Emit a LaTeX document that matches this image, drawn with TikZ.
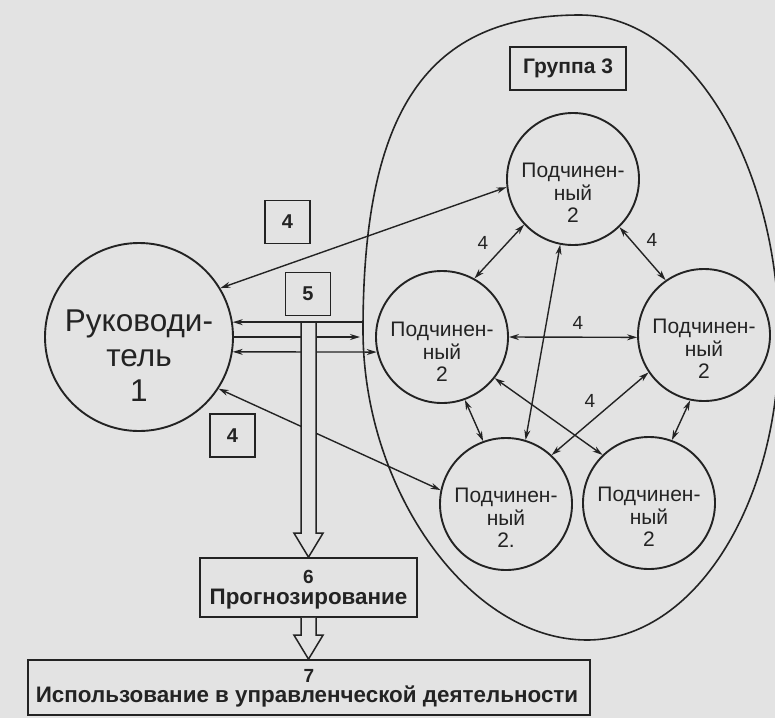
\documentclass[tikz,border=0pt]{standalone}
\usepackage{fontspec}
\setmainfont{Liberation Sans}
\usetikzlibrary{arrows.meta,calc}
\definecolor{bgc}{RGB}{227,227,227}
\definecolor{ink}{RGB}{35,35,35}
\tikzset{
  myhead/.tip={Stealth[length=10pt,width=6pt]},
  circ/.style={circle,draw=ink,line width=1.9pt,minimum size=132pt,inner sep=0pt},
  subtext/.style={align=center,font=\fontsize{21}{22.5}\selectfont,text=ink,inner sep=0pt},
  numbox/.style={draw=ink,line width=1.7pt,minimum width=45pt,minimum height=43pt,inner sep=0pt,font=\bfseries\fontsize{20}{22}\selectfont,text=ink},
  conn/.style={draw=ink,line width=1.4pt},
  biarrow/.style={conn,myhead-myhead},
  lbl/.style={font=\fontsize{19}{20}\selectfont,text=ink,inner sep=0pt},
  bigbox/.style={draw=ink,line width=1.7pt,align=center,inner sep=0pt,text=ink},
  boxtext/.style={inner sep=0pt,anchor=base,text=ink,font=\bfseries\fontsize{22.4}{24}\selectfont},
  boxnum/.style={inner sep=0pt,anchor=base,text=ink,font=\bfseries\fontsize{19}{20}\selectfont},
}
\newcommand{\hollowarrow}[2]{%
  \fill[bgc] ($(#1)+(-7.5,0)$) -- ($(#2)+(-7.5,-24)$) -- ($(#2)+(-14.5,-24)$) -- (#2) -- ($(#2)+(14.5,-24)$) -- ($(#2)+(7.5,-24)$) -- ($(#1)+(7.5,0)$) -- cycle;
  \draw[ink,line width=1.5pt] ($(#1)+(-7.5,0)$) -- ($(#2)+(-7.5,-24)$) -- ($(#2)+(-14.5,-24)$) -- (#2) -- ($(#2)+(14.5,-24)$) -- ($(#2)+(7.5,-24)$) -- ($(#1)+(7.5,0)$);}
\begin{document}
\begin{tikzpicture}[x=1pt,y=-1pt]
\fill[bgc] (0,0) rectangle (775,718);
\useasboundingbox (0,0) rectangle (775,718);
% group outline
\draw[ink,line width=1.6pt] (363,330) .. controls (363,109.5) and (428,15) .. (580,15)
  .. controls (689,15) and (779,163) .. (779,340)
  .. controls (779,506) and (693,640) .. (587,640)
  .. controls (470,640) and (363,491) .. cycle;
\node[bigbox,minimum width=116pt,minimum height=43pt,font=\bfseries\fontsize{21}{22}\selectfont] (grp) at (568,68.5) {Группа 3};
% leader
\node[circ,minimum size=188pt] (lead) at (139,337) {};
\node[align=center,font=\fontsize{31.5}{35}\selectfont,text=ink,inner sep=0pt] (leadtxt) at (139,356) {Руководи-\\тель\\1};
% subordinates
\node[circ] (T) at (573,179) {};
\node[circ] (L) at (442,337) {};
\node[circ] (R) at (704,335) {};
\node[circ] (BL) at (506,504) {};
\node[circ] (BR) at (649,503) {};
\node[subtext] (Ttxt) at (573,193) {Подчинен-\\ный\\2};
\node[subtext] (Ltxt) at (442,352) {Подчинен-\\ный\\2};
\node[subtext] (Rtxt) at (704,349) {Подчинен-\\ный\\2};
\node[subtext] (BLtxt) at (506,518) {Подчинен-\\ный\\2.};
\node[subtext] (BRtxt) at (649,517) {Подчинен-\\ный\\2};
% numbered boxes
\node[numbox] (b4a) at (287.5,222) {4};
\node[numbox] (b5) at (308,294) {5};
\node[numbox] (b4b) at (232.5,435.5) {4};
\node[bigbox,minimum width=217pt,minimum height=59pt] (box6) at (308.5,587.5) {};
\node[boxnum] (n6) at (308.5,583) {6};
\node[boxtext] (t6) at (308.5,604) {Прогнозирование};
\node[bigbox,minimum width=562pt,minimum height=55pt] (box7) at (309,687.5) {};
\node[boxnum] (n7) at (309,682) {7};
\node[boxtext] (t7) at (307,702) {Использование в управленческой деятельности};
% links among subordinates
\draw[biarrow] (T.223) -- (L.61);
\draw[biarrow] (T.314) -- (R.125);
\draw[biarrow] (T.259) -- (BL.73);
\draw[biarrow] (L.0) -- (R.182);
\draw[biarrow] (L.290) -- (BL.110);
\draw[biarrow] (L.322) -- (BR.134);
\draw[biarrow] (R.214) -- (BL.47);
\draw[biarrow] (R.258) -- (BR.70);
\node[lbl] (l1) at (483,243) {4};
\node[lbl] (l2) at (652,240) {4};
\node[lbl] (l3) at (578,323) {4};
\node[lbl] (l4) at (590,401) {4};
% leader links
\coordinate (ebd1) at (363,0);
\coordinate (ebd2) at (360,0);
\draw[biarrow] (lead.31) -- (T.187);
\draw[conn,-myhead] (lead.0) -- (lead.0 -| ebd2);
\draw[biarrow] (lead.351) -- (L.193);
\draw[biarrow] (lead.327) -- (BL.168);
% hollow arrows
\coordinate (a1top) at (box6.north |- lead.9);
\coordinate (a1tip) at (box6.north);
\hollowarrow{a1top}{a1tip}
\coordinate (a2top) at (box6.south);
\coordinate (a2tip) at (box6.south |- box7.north);
\hollowarrow{a2top}{a2tip}
\draw[conn,myhead-] (lead.9) -- (lead.9 -| ebd1);
\end{tikzpicture}
\end{document}
